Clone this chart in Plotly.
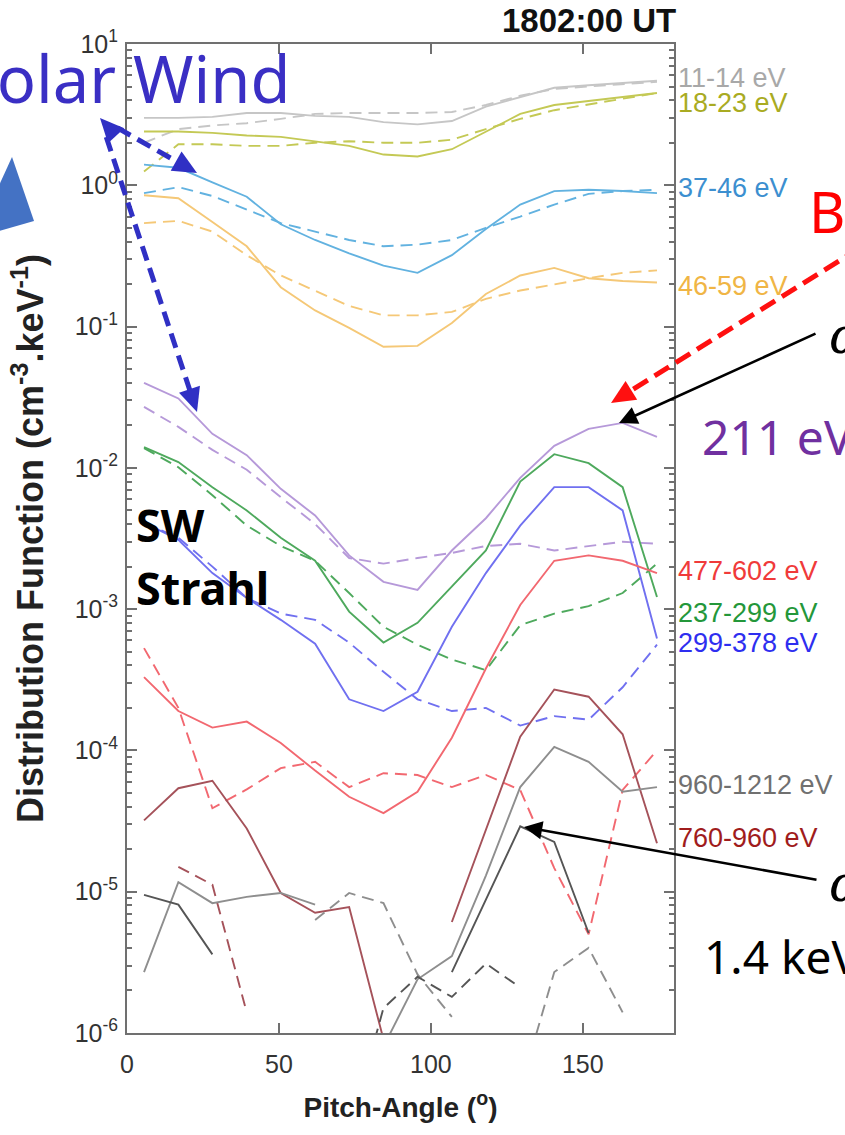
import math
import plotly.graph_objects as go

# ---------------- data ----------------
pitch_angle = [5.6, 16.9, 28.1, 39.4, 50.6, 61.9, 73.1, 84.4, 95.6, 106.9, 118.1, 129.4, 140.6, 151.9, 163.1, 174.4]

e11_14_solid = [3.0, 3.0, 3.05, 3.25, 3.25, 3.1, 3.05, 2.8, 2.7, 2.85, 3.6, 4.2, 4.9, 5.1, 5.3, 5.5]
e11_14_dash = [2.0, 2.5, 2.65, 2.75, 2.95, 3.2, 3.25, 3.25, 3.25, 3.3, 3.7, 4.3, 4.8, 5.0, 5.2, 5.4]
e18_23_solid = [2.4, 2.4, 2.35, 2.25, 2.2, 2.05, 1.9, 1.65, 1.6, 1.8, 2.4, 3.2, 3.7, 3.95, 4.2, 4.5]
e18_23_dash = [1.25, 1.95, 1.95, 1.9, 1.9, 2.0, 2.05, 2.0, 2.0, 2.1, 2.5, 2.95, 3.4, 3.75, 4.1, 4.5]
e37_46_solid = [1.4, 1.33, 1.05, 0.83, 0.53, 0.41, 0.33, 0.27, 0.24, 0.32, 0.49, 0.73, 0.91, 0.93, 0.91, 0.88]
e37_46_dash = [0.88, 0.97, 0.84, 0.67, 0.54, 0.47, 0.41, 0.37, 0.38, 0.41, 0.5, 0.6, 0.73, 0.87, 0.91, 0.93]
e46_59_solid = [0.85, 0.81, 0.55, 0.37, 0.19, 0.13, 0.098, 0.072, 0.073, 0.106, 0.17, 0.23, 0.26, 0.22, 0.21, 0.205]
e46_59_dash = [0.54, 0.56, 0.47, 0.32, 0.23, 0.18, 0.14, 0.12, 0.12, 0.127, 0.157, 0.18, 0.2, 0.22, 0.24, 0.25]
e211_solid = [0.040, 0.031, 0.0174, 0.0123, 0.0071, 0.0046, 0.0024, 0.00156, 0.00137, 0.0026, 0.0044, 0.0085, 0.0143, 0.0189, 0.0208, 0.0166]
e211_dash = [0.027, 0.0195, 0.0134, 0.0097, 0.0062, 0.004, 0.0023, 0.0021, 0.0023, 0.0025, 0.0028, 0.0029, 0.0026, 0.0028, 0.003, 0.0029]
e237_299_solid = [0.014, 0.011, 0.0073, 0.005, 0.0032, 0.0022, 0.00096, 0.00058, 0.0008, 0.00144, 0.0026, 0.008, 0.0125, 0.0108, 0.0073, 0.00122]
e237_299_dash = [0.0138, 0.0101, 0.0064, 0.0039, 0.0028, 0.0022, 0.0013, 0.00075, 0.00056, 0.00044, 0.00037, 0.00077, 0.00093, 0.00105, 0.0013, 0.0021]
e299_378_solid = [0.0041, 0.0031, 0.0018, 0.0012, 0.00084, 0.00057, 0.00023, 0.00019, 0.00026, 0.00075, 0.0018, 0.0039, 0.0073, 0.0073, 0.005, 0.00062]
e299_378_dash = [0.0041, 0.0032, 0.002, 0.0012, 0.00093, 0.00084, 0.00058, 0.00036, 0.00023, 0.00019, 0.0002, 0.00015, 0.000175, 0.000165, 0.00028, 0.00056]
e477_602_solid = [3.3e-4, 1.9e-4, 1.45e-4, 1.6e-4, 1.13e-4, 7.2e-5, 4.7e-5, 3.6e-5, 5.1e-5, 1.23e-4, 3.8e-4, 1.07e-3, 2.2e-3, 2.4e-3, 2.2e-3, 1.8e-3]
e477_602_dash = [5.3e-4, 2.0e-4, 3.9e-5, 5.3e-5, 7.5e-5, 8.3e-5, 5.5e-5, 6.9e-5, 6.7e-5, 5.5e-5, 6.7e-5, 5.25e-5, 1.47e-5, 5.0e-6, 5.25e-5, 1.0e-4]
e760_960_solid = [3.2e-5, 5.4e-5, 6.1e-5, 2.8e-5, 9.8e-6, 7.1e-6, 7.8e-6, 9e-7, None, 6.1e-6, 2.7e-5, 1.25e-4, 2.7e-4, 2.4e-4, 1.3e-4, 2.2e-5]
e760_960_dash = [None, 1.5e-5, 1.12e-5, 1.4e-6, None, None, None, None, None, None, None, None, None, None, None, None]
e960_1212_solid = [2.7e-6, 1.17e-5, 8.3e-6, 9.2e-6, 9.8e-6, 8.1e-6, None, 8e-7, 2.4e-6, 3.5e-6, 1.3e-5, 5.5e-5, 1.06e-4, 8.3e-5, 5.1e-5, 5.5e-5]
e960_1212_dash = [None, None, None, None, None, 6.3e-6, 9.8e-6, 8.3e-6, 2.6e-6, 1.3e-6, None, 4e-7, 2.7e-6, 4.0e-6, 1.4e-6, None]
e1400_solid = [9.5e-6, 8.1e-6, 3.6e-6, None, None, None, None, None, None, 2.7e-6, 8.7e-6, 2.9e-5, 2.25e-5, 5.1e-6, None, None]
e1400_dash = [None, None, None, None, None, None, 2e-7, 1.5e-6, 2.5e-6, 1.8e-6, 3.1e-6, 2.1e-6, None, None, None, None]

channel_labels = ["11-14 eV", "18-23 eV", "37-46 eV", "46-59 eV", "477-602 eV",
                  "237-299 eV", "299-378 eV", "960-1212 eV", "760-960 eV"]
y_tick_values = [1e1, 1e0, 1e-1, 1e-2, 1e-3, 1e-4, 1e-5, 1e-6]
y_tick_text = ["10<sup>1</sup>", "10<sup>0</sup>", "10<sup>-1</sup>", "10<sup>-2</sup>",
               "10<sup>-3</sup>", "10<sup>-4</sup>", "10<sup>-5</sup>", "10<sup>-6</sup>"]
x_tick_values = [0, 50, 100, 150]

# ---------------- styling ----------------
series = [
    (e11_14_solid, e11_14_dash, "#c6c6c6"),
    (e18_23_solid, e18_23_dash, "#c4c955"),
    (e37_46_solid, e37_46_dash, "#62b2e0"),
    (e46_59_solid, e46_59_dash, "#f5c877"),
    (e211_solid, e211_dash, "#b699d9"),
    (e237_299_solid, e237_299_dash, "#4ea95d"),
    (e299_378_solid, e299_378_dash, "#7070f0"),
    (e477_602_solid, e477_602_dash, "#f26870"),
    (e760_960_solid, e760_960_dash, "#a5525a"),
    (e960_1212_solid, e960_1212_dash, "#8e8e8e"),
    (e1400_solid, e1400_dash, "#555555"),
]
label_colors = ["#a8a8a8", "#a9ab22", "#3c8fd0", "#f0b545", "#f03a3a",
                "#24973a", "#2e2ef0", "#707070", "#a01c1c"]
label_y_px = [78, 103, 188, 286, 571, 613, 643, 785, 838]

fig = go.Figure()
for solid, dash, col in series:
    fig.add_trace(go.Scatter(x=pitch_angle, y=solid, mode="lines",
                             line=dict(color=col, width=1.9), showlegend=False))
    fig.add_trace(go.Scatter(x=pitch_angle, y=dash, mode="lines",
                             line=dict(color=col, width=1.9, dash="12px,7px"), showlegend=False))

# plot frame in pixels
L, R, T, B = 127, 674, 44, 1033
W, H = 845, 1135


def hx(x):
    return (x - L) / (R - L)


def hy(y):
    return (B - y) / (B - T)


axis_col = "#707070"
sans = "Liberation Sans, Arial, sans-serif"
tick_font = dict(family=sans, size=25, color="#333333")
fig.update_layout(
    width=W, height=H,
    margin=dict(l=L, r=W - R, t=T, b=H - B),
    paper_bgcolor="white", plot_bgcolor="white",
    showlegend=False,
    xaxis=dict(range=[0, 180], tickmode="array", tickvals=x_tick_values,
               ticks="inside", ticklen=10, tickwidth=1.5, tickcolor=axis_col,
               showline=True, linecolor=axis_col, linewidth=2, mirror="ticks",
               showgrid=False, zeroline=False, tickfont=tick_font, ticklabelstandoff=8,
               title=dict(text="<b>Pitch-Angle (<sup>o</sup>)</b>", standoff=20,
                          font=dict(family=sans, size=28, color="#222222"))),
    yaxis=dict(type="log", range=[-6, 1], tickmode="array", tickvals=y_tick_values,
               ticktext=y_tick_text, ticks="inside", ticklen=10, tickwidth=1.5, tickcolor=axis_col,
               minor=dict(ticks="inside", ticklen=5, tickcolor=axis_col, dtick="D1", showgrid=False),
               showline=True, linecolor=axis_col, linewidth=2, mirror="ticks",
               showgrid=False, zeroline=False, tickfont=tick_font, ticklabelstandoff=2,
               title=dict(text="<b>Distribution Function (cm<sup>-3</sup>.keV<sup>-1</sup>)</b>", standoff=20,
                          font=dict(family=sans, size=36, color="#222222"))),
)

ann = []
# title
ann.append(dict(text="<b>1802:00 UT</b>", x=hx(678), y=hy(21), xref="paper", yref="paper",
                xanchor="right", yanchor="middle", showarrow=False,
                font=dict(family=sans, size=33, color="#111111")))
# right-side channel labels
for txt, col, ypx in zip(channel_labels, label_colors, label_y_px):
    ann.append(dict(text=txt, x=hx(676), y=hy(ypx), xref="paper", yref="paper",
                    xanchor="left", yanchor="middle", showarrow=False,
                    font=dict(family=sans, size=27, color=col)))

big_font = "Noto Sans, Open Sans, sans-serif"
ann.append(dict(text="Solar Wind", x=hx(292), y=hy(78), xref="paper", yref="paper",
                xanchor="right", yanchor="middle", showarrow=False,
                font=dict(family=big_font, size=65, color="#3a2fc4")))
ann.append(dict(text="B", x=hx(807), y=hy(211), xref="paper", yref="paper",
                xanchor="left", yanchor="middle", showarrow=False,
                font=dict(family=big_font, size=56, color="#ff0000")))
ann.append(dict(text="211 eV", x=hx(700), y=hy(436), xref="paper", yref="paper",
                xanchor="left", yanchor="middle", showarrow=False,
                font=dict(family=big_font, size=48, color="#7030a0")))
ann.append(dict(text="1.4 keV", x=hx(702), y=hy(956), xref="paper", yref="paper",
                xanchor="left", yanchor="middle", showarrow=False,
                font=dict(family=big_font, size=46, color="#000000")))
ann.append(dict(text="<b>SW</b>", x=hx(134), y=hy(524), xref="paper", yref="paper",
                xanchor="left", yanchor="middle", showarrow=False,
                font=dict(family=big_font, size=45, color="#000000")))
ann.append(dict(text="<b>Strahl</b>", x=hx(134), y=hy(587), xref="paper", yref="paper",
                xanchor="left", yanchor="middle", showarrow=False,
                font=dict(family=big_font, size=45, color="#000000")))
for ya in (336, 884):
    ann.append(dict(text="<i>α</i>", x=hx(827), y=hy(ya), xref="paper", yref="paper",
                    xanchor="left", yanchor="middle", showarrow=False,
                    font=dict(family="DejaVu Serif, serif", size=50, color="#000000")))
# black solid arrows
for (tx, ty, sx, sy) in [(619, 423, 817, 333), (524, 827, 818, 880)]:
    ann.append(dict(text="", x=hx(tx), y=hy(ty), xref="paper", yref="paper",
                    ax=sx - tx, ay=sy - ty, showarrow=True, arrowhead=2, arrowsize=1.4,
                    arrowwidth=2.6, arrowcolor="#000000"))
fig.update_layout(annotations=ann)

shapes = []


def tri(tip, direction, length, width, color):
    ux, uy = direction
    n = math.hypot(ux, uy)
    ux, uy = ux / n, uy / n
    bx, by = tip[0] - ux * length, tip[1] - uy * length
    nx, ny = -uy, ux
    p1 = (bx + nx * width / 2, by + ny * width / 2)
    p2 = (bx - nx * width / 2, by - ny * width / 2)
    path = "M {} {} L {} {} L {} {} Z".format(hx(tip[0]), hy(tip[1]), hx(p1[0]), hy(p1[1]),
                                              hx(p2[0]), hy(p2[1]))
    return dict(type="path", path=path, xref="paper", yref="paper",
                fillcolor=color, line=dict(color=color, width=0))


def dline(p0, p1, color, width, dash):
    return dict(type="line", x0=hx(p0[0]), y0=hy(p0[1]), x1=hx(p1[0]), y1=hy(p1[1]),
                xref="paper", yref="paper", line=dict(color=color, width=width, dash=dash))


# blue triangle
shapes.append(dict(type="path", xref="paper", yref="paper",
                   path="M {} {} L {} {} L {} {} Z".format(hx(12), hy(157), hx(34), hy(221), hx(-25), hy(238)),
                   fillcolor="#4472c4", line=dict(color="#4472c4", width=0)))

blue = "#3030c4"
origin = (100, 118)
tipA = (197, 173)
tipB = (197, 412)
hl, hw = 24, 22


def shorten(p_from, p_to, d):
    dx, dy = p_to[0] - p_from[0], p_to[1] - p_from[1]
    n = math.hypot(dx, dy)
    return (p_to[0] - dx / n * d, p_to[1] - dy / n * d)


startA = shorten(tipA, origin, hl - 4)
endA = shorten(origin, tipA, hl - 4)
startB = shorten(tipB, origin, hl - 4)
endB = shorten(origin, tipB, hl - 4)
shapes.append(dline(startA, endA, blue, 5, "15px,8px"))
shapes.append(dline(startB, endB, blue, 5, "15px,8px"))
shapes.append(tri(tipA, (tipA[0] - origin[0], tipA[1] - origin[1]), hl, hw, blue))
shapes.append(tri(tipB, (tipB[0] - origin[0], tipB[1] - origin[1]), hl, hw, blue))
shapes.append(tri(origin, (-1.0, -1.1), hl, hw, blue))

red = "#ff1010"
rtail = (860, 248)
rtip = (611, 403)
rend = shorten(rtail, rtip, 20)
shapes.append(dline(rtail, rend, red, 5, "17px,8px"))
shapes.append(tri(rtip, (rtip[0] - rtail[0], rtip[1] - rtail[1]), 24, 22, red))

fig.update_layout(shapes=shapes)

fig.write_html("out.html", config={"displayModeBar": False},
               post_script="document.body.style.margin='0';document.body.style.overflow='hidden';")
